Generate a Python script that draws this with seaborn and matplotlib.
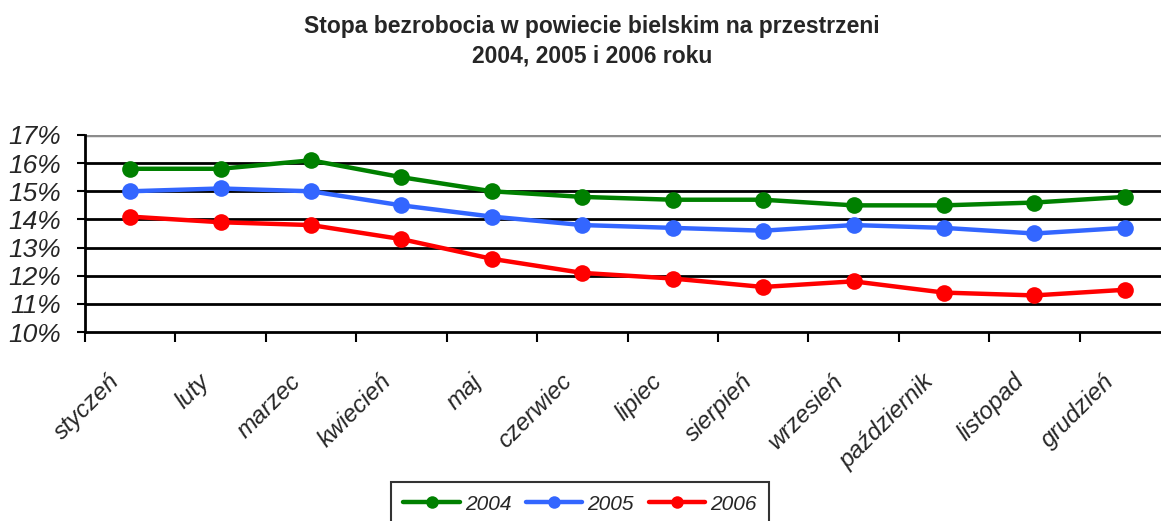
import pandas as pd
import matplotlib.pyplot as plt
import matplotlib.transforms as mtrans
import seaborn as sns
from matplotlib.ticker import FuncFormatter

months = ['styczeń', 'luty', 'marzec', 'kwiecień', 'maj', 'czerwiec',
          'lipiec', 'sierpień', 'wrzesień', 'październik', 'listopad', 'grudzień']
y2004 = [15.8, 15.8, 16.1, 15.5, 15.0, 14.8, 14.7, 14.7, 14.5, 14.5, 14.6, 14.8]
y2005 = [15.0, 15.1, 15.0, 14.5, 14.1, 13.8, 13.7, 13.6, 13.8, 13.7, 13.5, 13.7]
y2006 = [14.1, 13.9, 13.8, 13.3, 12.6, 12.1, 11.9, 11.6, 11.8, 11.4, 11.3, 11.5]
years = ['2004', '2005', '2006']
colors = {'2004': '#008000', '2005': '#3366FF', '2006': '#FF0000'}

rows = []
for yr, vals in zip(years, [y2004, y2005, y2006]):
    for m, v in zip(months, vals):
        rows.append({'miesiac': m, 'stopa': v, 'rok': yr})
df = pd.DataFrame(rows)

sns.set_style('white')
plt.rcParams['font.family'] = ['Liberation Sans', 'DejaVu Sans']

fig = plt.figure(figsize=(11.61, 5.21), dpi=100)
ax = fig.add_axes([85 / 1161, 1 - 332 / 521, 1085 / 1161, 197 / 521])

sns.lineplot(data=df, x='miesiac', y='stopa', hue='rok', palette=colors,
             marker='o', markersize=12, linewidth=3.2, markeredgewidth=0,
             sort=False, ax=ax, legend=True)

ax.set_xlim(-0.5, 11.5)
ax.set_ylim(10, 17)
ax.set_yticks(range(10, 18))
ax.yaxis.set_major_formatter(FuncFormatter(lambda v, p: f'{int(v)}%'))
for lab in ax.get_yticklabels():
    lab.set_fontstyle('italic')
    lab.set_fontsize(19)

# linie siatki
for v in range(11, 17):
    ax.axhline(v, color='black', lw=2, zorder=0)
ax.axhline(17, color='#8c8c8c', lw=2.5, zorder=0)

# znaczniki na granicach kategorii, etykiety w srodku
ax.set_xticks([i - 0.5 for i in range(13)])
ax.set_xticklabels([])
ax.set_xticks(range(12), minor=True)
ax.set_xticklabels(months, minor=True, rotation=45, ha='right', va='center',
                   rotation_mode='anchor', fontsize=17.5, fontstyle='italic')
ax.tick_params(axis='x', which='major', direction='out', length=7, width=1.5,
               color='black', bottom=True)
ax.tick_params(axis='x', which='minor', length=0, pad=33)
ax.tick_params(axis='y', direction='out', length=6, width=1.5, color='black',
               left=True, pad=11)

# przesuniecie etykiet troche w lewo (jak w Excelu)
shift = mtrans.ScaledTranslation(-0.14, 0, fig.dpi_scale_trans)
for t in ax.xaxis.get_minor_ticks():
    t.label1.set_transform(t.label1.get_transform() + shift)

for s in ['top', 'right']:
    ax.spines[s].set_visible(False)
for s in ['left', 'bottom']:
    ax.spines[s].set_color('black')
    ax.spines[s].set_linewidth(2)

ax.set_xlabel('')
ax.set_ylabel('')

handles, labels = ax.get_legend_handles_labels()
ax.legend_.remove()
leg = fig.legend(handles, labels, loc='upper center', ncol=3,
                 bbox_to_anchor=(580 / 1161, 1 - 482 / 521), frameon=True,
                 fancybox=False, edgecolor='black',
                 prop={'style': 'italic', 'size': 15}, handlelength=2.7,
                 columnspacing=0.7, handletextpad=0.25, borderpad=0.6,
                 borderaxespad=0)
leg.get_frame().set_linewidth(1.5)
for h in leg.legend_handles:
    h.set_markersize(9)

fig.text(592 / 1161, 1 - 33 / 521, 'Stopa bezrobocia w powiecie bielskim na przestrzeni',
         ha='center', va='baseline', fontsize=16.5, fontweight='bold')
fig.text(592 / 1161, 1 - 63 / 521, '2004, 2005 i 2006 roku',
         ha='center', va='baseline', fontsize=16.5, fontweight='bold')

fig.savefig('out.png', dpi=100)
